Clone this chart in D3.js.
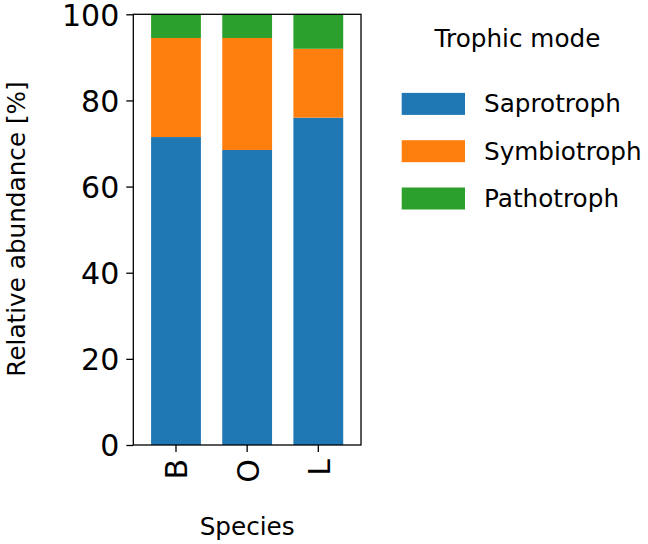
<!DOCTYPE html>
<html>
<head>
<meta charset="utf-8">
<script src="https://cdn.jsdelivr.net/npm/d3@7"></script>
<style>
  html, body { margin: 0; padding: 0; background: #fff; }
  svg { display: block; font-family: "DejaVu Sans", sans-serif; }
</style>
</head>
<body>
<svg id="chart" width="648" height="544"></svg>
<script>
// ---- data ----
const species = ["B", "O", "L"];
const modes = ["Saprotroph", "Symbiotroph", "Pathotroph"];
const saprotroph = [71.5, 68.5, 76.0];
const symbiotroph = [23.0, 26.0, 16.0];
const pathotroph = [5.5, 5.5, 8.0];
const yTicks = [0, 20, 40, 60, 80, 100];
const colors = ["#1f77b4", "#ff7f0e", "#2ca02c"];

const rows = species.map((s, i) => ({
  species: s,
  Saprotroph: saprotroph[i],
  Symbiotroph: symbiotroph[i],
  Pathotroph: pathotroph[i]
}));

const svg = d3.select("#chart");
const L = 133.3, R = 361, T = 14.3, B = 445;

const x = d3.scaleBand().domain(species).range([L, R]).paddingInner(0.3).paddingOuter(0.25);
const y = d3.scaleLinear().domain([0, 100]).range([B, T]);
const color = d3.scaleOrdinal().domain(modes).range(colors);

const stack = d3.stack().keys(modes)(rows);

svg.append("g").selectAll("g").data(stack).join("g")
  .attr("fill", d => color(d.key))
  .selectAll("rect").data(d => d).join("rect")
  .attr("x", d => x(d.data.species))
  .attr("width", x.bandwidth())
  .attr("y", d => y(d[1]))
  .attr("height", d => y(d[0]) - y(d[1]));

// frame
svg.append("rect")
  .attr("x", L).attr("y", T).attr("width", R - L).attr("height", B - T)
  .attr("fill", "none").attr("stroke", "#000").attr("stroke-width", 1.3);

// y axis
const yAxis = svg.append("g").attr("transform", `translate(${L},0)`)
  .call(d3.axisLeft(y).tickValues(yTicks).tickSize(7).tickPadding(7).tickFormat(d3.format("d")));
yAxis.select(".domain").remove();
yAxis.selectAll("line").attr("stroke", "#000").attr("stroke-width", 1.3);
yAxis.selectAll("text").attr("font-size", "30px").attr("font-family", "DejaVu Sans").attr("fill", "#000").attr("dy", "0.36em");

// x axis
const xAxis = svg.append("g").attr("transform", `translate(0,${B})`)
  .call(d3.axisBottom(x).tickSize(7).tickPadding(7));
xAxis.select(".domain").remove();
xAxis.selectAll("line").attr("stroke", "#000").attr("stroke-width", 1.3);
xAxis.selectAll("text")
  .attr("font-size", "30px").attr("font-family", "DejaVu Sans").attr("fill", "#000")
  .attr("text-anchor", "end")
  .attr("y", 0).attr("dy", "0.38em")
  .attr("transform", "translate(0,14) rotate(-90)");

// axis labels
svg.append("text")
  .attr("transform", "translate(25,229) rotate(-90)")
  .attr("text-anchor", "middle").attr("font-size", "24.7px").attr("fill", "#000")
  .text("Relative abundance [%]");
svg.append("text")
  .attr("x", (L + R) / 2).attr("y", 535)
  .attr("text-anchor", "middle").attr("font-size", "24.7px").attr("fill", "#000")
  .text("Species");

// legend
const lg = svg.append("g");
lg.append("text").attr("x", 517.5).attr("y", 47).attr("text-anchor", "middle")
  .attr("font-size", "24.7px").attr("fill", "#000").text("Trophic mode");
const items = lg.selectAll("g.item").data(modes).join("g").attr("class", "item")
  .attr("transform", (d, i) => `translate(0,${103.9 + i * 47.3})`);
items.append("rect").attr("x", 401.7).attr("y", -11).attr("width", 63.3).attr("height", 22)
  .attr("fill", d => color(d));
items.append("text").attr("x", 484).attr("y", 8.5).attr("font-size", "24.7px").attr("fill", "#000")
  .text(d => d);
</script>
</body>
</html>
